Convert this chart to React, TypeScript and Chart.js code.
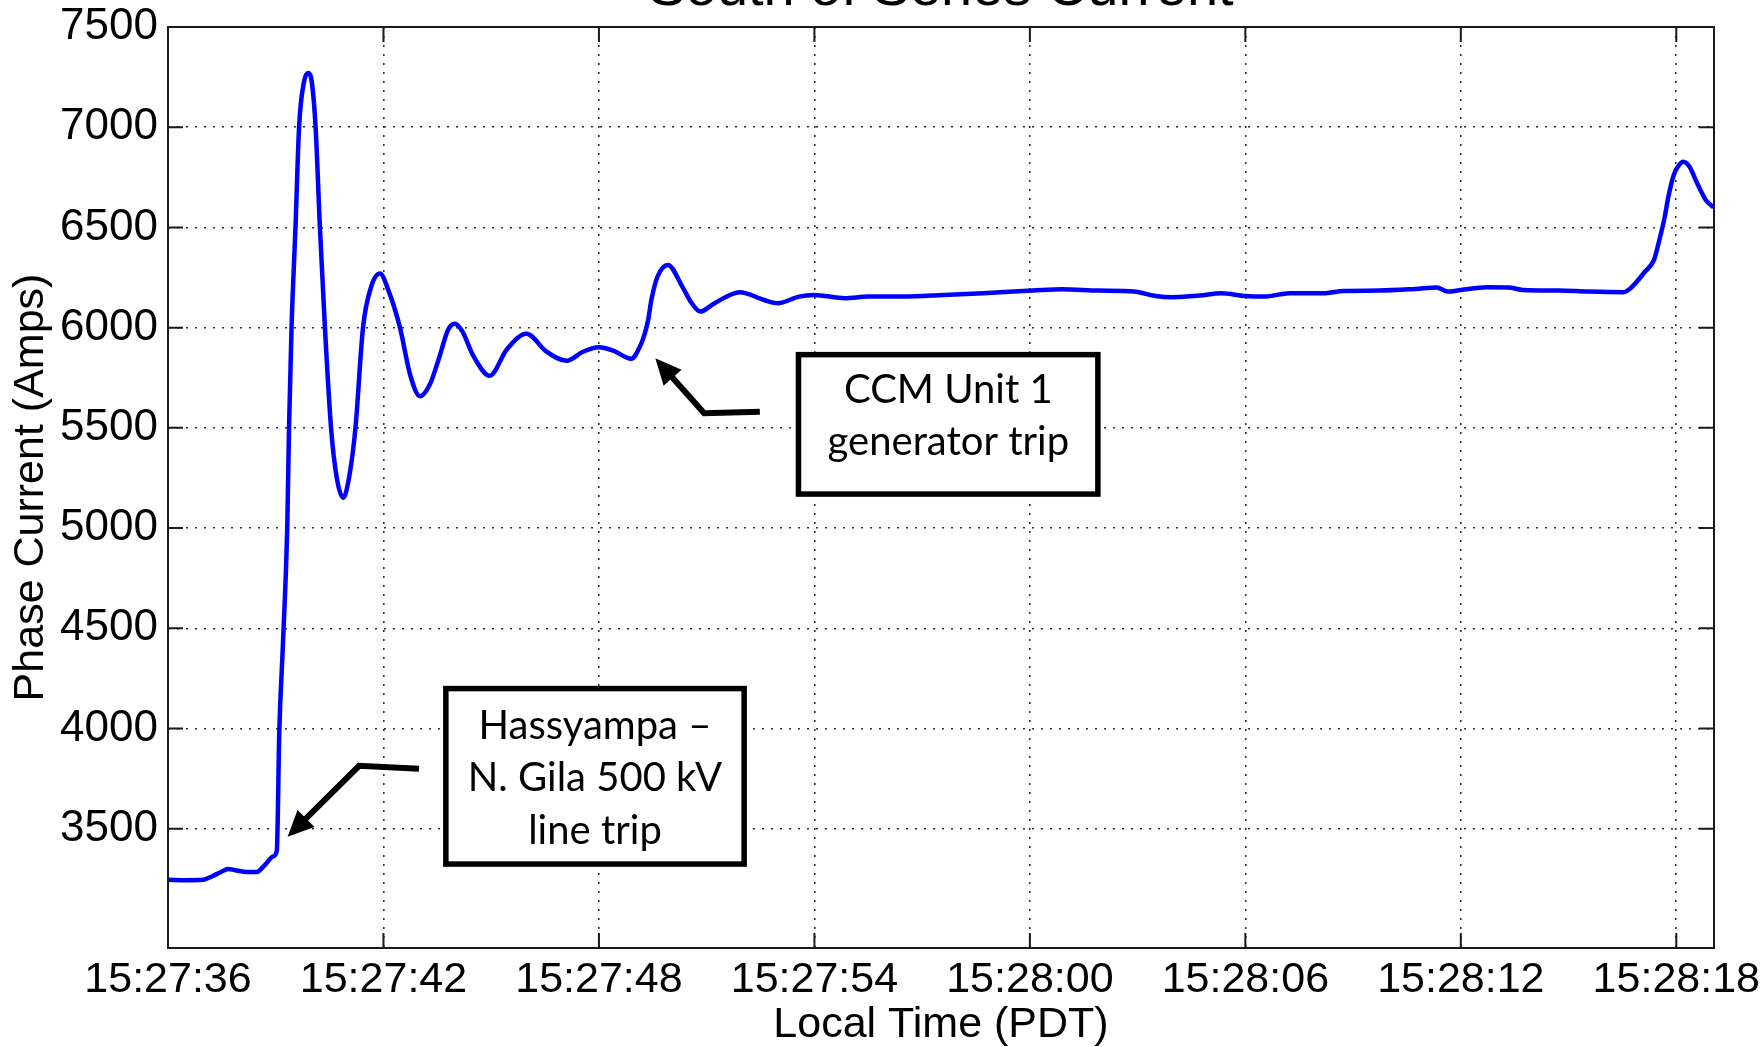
import { useEffect, useRef } from 'react';
import { Chart, registerables } from 'chart.js';

Chart.register(...registerables);

// ---------------- data ----------------
const titleText = 'South of Series Current';
const xAxisTitle = 'Local Time (PDT)';
const yAxisTitle = 'Phase Current (Amps)';

// seconds after 15:27:36
const xTickSeconds = [0, 6, 12, 18, 24, 30, 36, 42];
const xTickLabels = ['15:27:36', '15:27:42', '15:27:48', '15:27:54', '15:28:00', '15:28:06', '15:28:12', '15:28:18'];
const yTickValues = [3500, 4000, 4500, 5000, 5500, 6000, 6500, 7000, 7500];
const xMin = 0;
const xMax = 43.05;
const yMin = 2905;
const yMax = 7500;

const timeSeconds = [
  0, 0.5, 0.98, 1.22, 1.45, 1.68, 1.91, 2.19, 2.47, 2.7, 2.93, 3.03,
  3.1, 3.2, 3.32, 3.37, 3.44, 3.55, 3.65, 3.78, 3.9, 4.0, 4.11,
  4.23, 4.37, 4.54, 4.7, 4.88, 5.05, 5.22, 5.43, 5.65, 5.9, 6.15, 6.46,
  6.75, 7.02, 7.3, 7.55, 7.8, 7.99, 8.2, 8.5, 8.96, 9.43, 9.98, 10.54,
  11.1, 11.56, 12.0, 12.4, 12.9, 13.14, 13.28, 13.37, 13.46, 13.63, 13.92, 14.32,
  14.58, 14.82, 15.22, 15.92, 16.6, 16.98, 17.57, 17.99, 18.85, 19.5, 20.5, 21.6,
  22.7, 24.07, 24.9, 25.9, 26.9, 27.5, 28.0, 28.73, 29.33, 30.0, 30.53, 31.23,
  32.23, 32.73, 33.73, 34.73, 35.33, 35.63, 36.0, 36.73, 37.33, 37.73, 38.73, 39.53,
  40.53, 40.73, 41.13, 41.38, 41.53, 41.68, 41.78, 41.93, 42.08, 42.2, 42.37, 42.52,
  42.67, 42.82, 43.04,
];
const phaseCurrent = [
  3245, 3243, 3245, 3262, 3282, 3299, 3292, 3284, 3284, 3320, 3362, 3390,
  3990, 4420, 5000, 5500, 6000, 6500, 7000, 7220, 7270, 7230, 7000,
  6500, 6000, 5500, 5250, 5151, 5260, 5500, 6000, 6200, 6270, 6180, 6000,
  5760, 5658, 5720, 5850, 5990, 6020, 5980, 5860, 5760, 5890, 5970, 5880,
  5835, 5880, 5902, 5885, 5845, 5905, 5973, 6038, 6138, 6254, 6313, 6205,
  6123, 6080, 6122, 6177, 6138, 6122, 6155, 6163, 6147, 6155, 6155, 6163,
  6172, 6185, 6192, 6185, 6180, 6158, 6152, 6160, 6172, 6158, 6155, 6172,
  6172, 6183, 6185, 6193, 6200, 6180, 6188, 6201, 6200, 6188, 6185, 6180,
  6177, 6197, 6280, 6338, 6438, 6554, 6654, 6762, 6812, 6828, 6803, 6745,
  6687, 6637, 6600,
];

// annotation callouts (positioned in data space)
const calloutCCM = {
  lines: ['CCM Unit 1', 'generator trip'],
  box: [17.48, 5879, 25.97, 5156],
  baselines: [5624, 5365],
  centerX: 21.73,
  arrow: [[16.48, 5581], [14.93, 5573], [13.57, 5847]],
};
const calloutLine = {
  lines: ['Hassyampa \u2013', 'N. Gila 500 kV', 'line trip'],
  box: [7.66, 4213, 16.12, 3310],
  baselines: [3947, 3686, 3423],
  centerX: 11.89,
  arrow: [[6.99, 3799], [5.32, 3814], [3.33, 3460]],
};
const callouts = [calloutCCM, calloutLine];

const tickFont = 'Liberation Sans, Arial, sans-serif';

function drawArrow(ctx: CanvasRenderingContext2D, pts: number[][]) {
  const n = pts.length;
  const [tx, ty] = pts[n - 1];
  const [px, py] = pts[n - 2];
  const ang = Math.atan2(ty - py, tx - px);
  const headLen = 26;
  const headW = 12;
  const bx = tx - headLen * Math.cos(ang);
  const by = ty - headLen * Math.sin(ang);
  ctx.beginPath();
  ctx.moveTo(pts[0][0], pts[0][1]);
  for (let i = 1; i < n - 1; i++) ctx.lineTo(pts[i][0], pts[i][1]);
  ctx.lineTo(bx + 2 * Math.cos(ang), by + 2 * Math.sin(ang));
  ctx.stroke();
  ctx.beginPath();
  ctx.moveTo(tx, ty);
  ctx.lineTo(bx + headW * Math.sin(ang), by - headW * Math.cos(ang));
  ctx.lineTo(bx - headW * Math.sin(ang), by + headW * Math.cos(ang));
  ctx.closePath();
  ctx.fill();
}

const decorPlugin = {
  id: 'decor',
  afterDraw(chart: any) {
    const { ctx, chartArea: a, scales } = chart;
    const xs = scales.x;
    const ys = scales.y;
    ctx.save();
    // frame
    ctx.strokeStyle = '#1a1a1a';
    ctx.lineWidth = 2;
    ctx.strokeRect(a.left, a.top, a.right - a.left, a.bottom - a.top);
    // inward ticks on all four sides
    const tl = 15;
    ctx.beginPath();
    yTickValues.forEach((v) => {
      const py = ys.getPixelForValue(v);
      ctx.moveTo(a.left, py);
      ctx.lineTo(a.left + tl, py);
      ctx.moveTo(a.right, py);
      ctx.lineTo(a.right - tl, py);
    });
    xTickSeconds.forEach((v) => {
      const px = xs.getPixelForValue(v);
      ctx.moveTo(px, a.bottom);
      ctx.lineTo(px, a.bottom - tl);
      ctx.moveTo(px, a.top);
      ctx.lineTo(px, a.top + tl);
    });
    ctx.stroke();

    // title (clipped at top edge as in reference)
    ctx.fillStyle = '#000';
    ctx.font = '56px ' + tickFont;
    ctx.textAlign = 'center';
    ctx.textBaseline = 'alphabetic';
    ctx.fillText(titleText, (a.left + a.right) / 2, 5);

    // callouts
    callouts.forEach((c) => {
      const x0 = xs.getPixelForValue(c.box[0]);
      const y0 = ys.getPixelForValue(c.box[1]);
      const x1 = xs.getPixelForValue(c.box[2]);
      const y1 = ys.getPixelForValue(c.box[3]);
      const lw = 5.5;
      ctx.fillStyle = '#fff';
      ctx.fillRect(x0, y0, x1 - x0, y1 - y0);
      ctx.strokeStyle = '#000';
      ctx.lineWidth = lw;
      ctx.lineJoin = 'miter';
      ctx.strokeRect(x0 + lw / 2, y0 + lw / 2, x1 - x0 - lw, y1 - y0 - lw);
      ctx.fillStyle = '#000';
      ctx.font = '40px Lato, "Open Sans", sans-serif';
      ctx.textAlign = 'center';
      ctx.textBaseline = 'alphabetic';
      const cx = xs.getPixelForValue(c.centerX);
      c.lines.forEach((t, i) => {
        ctx.fillText(t, cx, ys.getPixelForValue(c.baselines[i]));
      });
      const pts = c.arrow.map((p) => [xs.getPixelForValue(p[0]), ys.getPixelForValue(p[1])]);
      ctx.lineWidth = 6;
      ctx.strokeStyle = '#000';
      ctx.fillStyle = '#000';
      drawArrow(ctx, pts);
    });
    ctx.restore();
  },
};

export default function App() {
  const ref = useRef<HTMLCanvasElement | null>(null);

  useEffect(() => {
    document.body.style.margin = '0';
    if (!ref.current) return;
    const points = timeSeconds.map((t, i) => ({ x: t, y: phaseCurrent[i] }));
    const chart = new Chart(ref.current, {
      type: 'line',
      data: {
        datasets: [
          {
            data: points,
            borderColor: '#0000ff',
            borderWidth: 4.5,
            pointRadius: 0,
            cubicInterpolationMode: 'monotone',
            fill: false,
          },
        ],
      },
      options: {
        animation: false,
        responsive: true,
        maintainAspectRatio: false,
        layout: { padding: { top: 27, right: 49, bottom: 0, left: 0 } },
        plugins: { legend: { display: false }, tooltip: { enabled: false }, title: { display: false } },
        scales: {
          x: {
            type: 'linear',
            min: xMin,
            max: xMax,
            afterBuildTicks: (s: any) => {
              s.ticks = xTickSeconds.map((v) => ({ value: v }));
            },
            afterFit: (s: any) => {
              s.height = 99;
              s.paddingLeft = 0;
              s.paddingRight = 0;
            },
            ticks: {
              autoSkip: false,
              maxRotation: 0,
              padding: 6,
              color: '#000',
              font: { family: tickFont, size: 43 },
              callback: (v: any) => {
                const i = xTickSeconds.indexOf(Number(v));
                return i >= 0 ? xTickLabels[i] : '';
              },
            },
            grid: { color: '#333', lineWidth: 1.6, drawTicks: false, borderDash: [2, 7] } as any,
            border: { display: false, dash: [2, 7] },
            title: {
              display: true,
              text: xAxisTitle,
              color: '#000',
              font: { family: tickFont, size: 43, lineHeight: 1.0 },
              padding: { top: 0, bottom: 0 },
            },
          },
          y: {
            type: 'linear',
            min: yMin,
            max: yMax,
            afterBuildTicks: (s: any) => {
              s.ticks = yTickValues.map((v) => ({ value: v }));
            },
            afterFit: (s: any) => {
              s.width = 168;
              s.paddingTop = 0;
              s.paddingBottom = 0;
            },
            ticks: {
              autoSkip: false,
              padding: 10,
              color: '#000',
              font: { family: tickFont, size: 44 },
              callback: (v: any) => String(v),
            },
            grid: { color: '#333', lineWidth: 1.6, drawTicks: false, borderDash: [2, 7] } as any,
            border: { display: false, dash: [2, 7] },
            title: {
              display: true,
              text: yAxisTitle,
              color: '#000',
              font: { family: tickFont, size: 43, lineHeight: 1.2 },
              padding: { top: 5, bottom: 0 },
            },
          },
        },
      },
      plugins: [decorPlugin],
    } as any);
    return () => chart.destroy();
  }, []);

  return (
    <div style={{ position: 'relative', width: '1763px', height: '1047px' }}>
      <canvas ref={ref} />
    </div>
  );
}
